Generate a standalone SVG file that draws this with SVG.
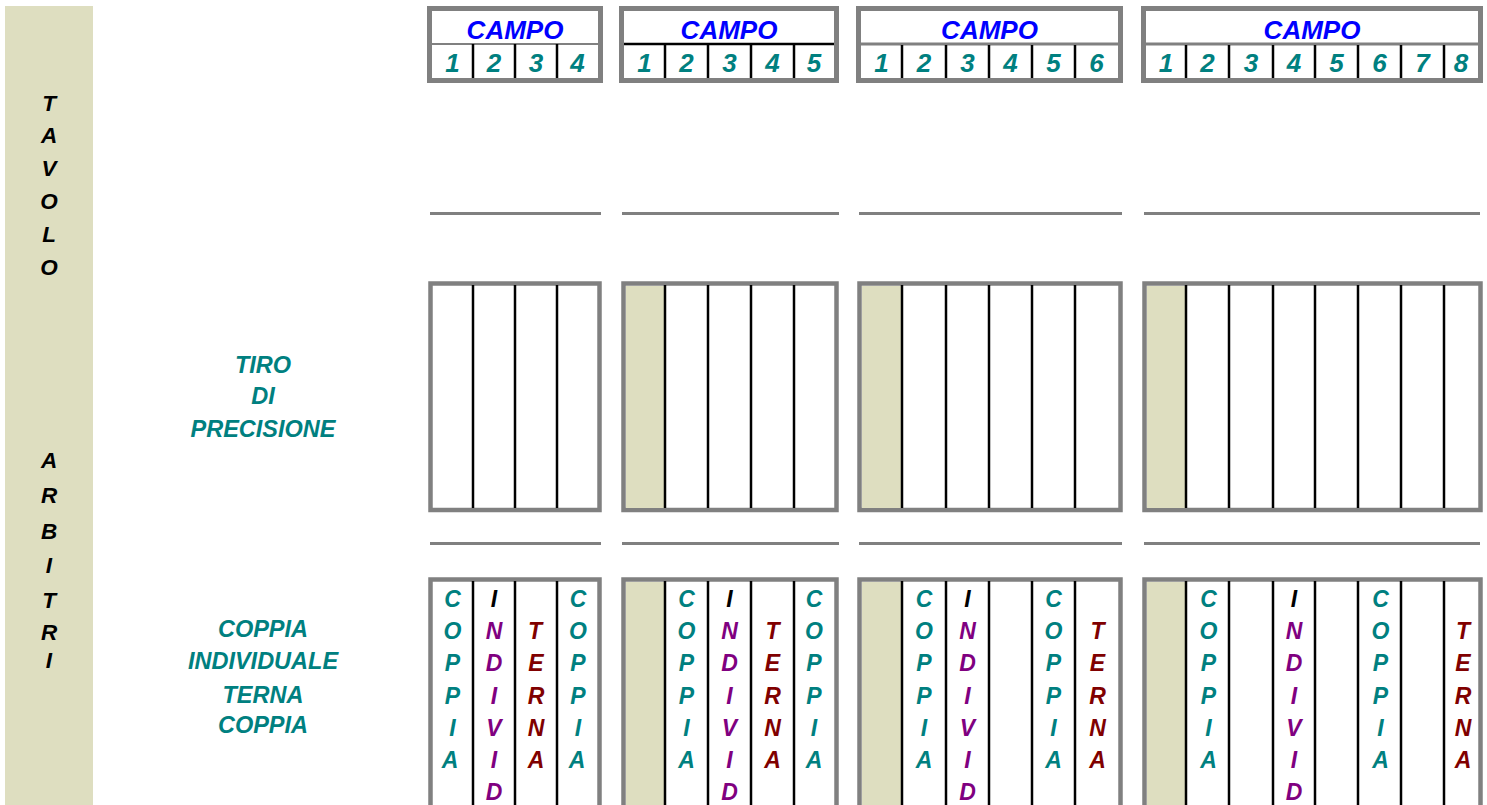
<svg xmlns="http://www.w3.org/2000/svg" width="1487" height="805" viewBox="0 0 1487 805">
<style>
text{font-family:"Liberation Sans",Arial,sans-serif;font-weight:bold;font-style:italic;text-anchor:middle}
.frame{fill:#fff;stroke:#808080;stroke-width:5}
.tan{fill:#DEDEC0}
.col{stroke:#000;stroke-width:2.5}
.sep{stroke:#808080;stroke-width:3}
.campo{fill:#0000FF;font-size:26px}
.num{fill:#008080;font-size:26px}
.lbl{fill:#008080;font-size:23.5px}
.side{fill:#000;font-size:22.5px}
.g{font-size:23px}
.cp{fill:#008080}
.iv{fill:#800080}
.tr{fill:#800000}
.bk{fill:#000}
</style>

<g id="side-strip">
<rect class="tan" x="5" y="6" width="88" height="799"/>
<text class="side"><tspan x="49" y="110.5">T</tspan><tspan x="49" y="143.4">A</tspan><tspan x="49" y="176.3">V</tspan><tspan x="49" y="209.2">O</tspan><tspan x="49" y="242.1">L</tspan><tspan x="49" y="275">O</tspan></text>
<text class="side"><tspan x="49" y="468">A</tspan><tspan x="49" y="503">R</tspan><tspan x="49" y="539">B</tspan><tspan x="49" y="573">I</tspan><tspan x="49" y="608">T</tspan><tspan x="49" y="640">R</tspan><tspan x="49" y="668">I</tspan></text>
</g>

<g id="label-tiro">
<text class="lbl"><tspan x="263" y="372.5">TIRO</tspan><tspan x="263" y="404">DI</tspan><tspan x="263" y="436.5">PRECISIONE</tspan></text>
</g>
<g id="label-gare">
<text class="lbl"><tspan x="263" y="637">COPPIA</tspan><tspan x="263" y="669">INDIVIDUALE</tspan><tspan x="263" y="703">TERNA</tspan><tspan x="263" y="733">COPPIA</tspan></text>
</g>

<!-- header boxes -->
<g id="campo-4">
<rect class="frame" x="429.5" y="8.5" width="171" height="72"/>
<line x1="432" y1="44" x2="598" y2="44" stroke="#808080" stroke-width="2"/>
<line class="col" x1="473" y1="44" x2="473" y2="78"/><line class="col" x1="515" y1="44" x2="515" y2="78"/><line class="col" x1="557" y1="44" x2="557" y2="78"/>
<text class="campo" x="515" y="38.5">CAMPO</text>
<text class="num"><tspan x="452.5" y="72">1</tspan><tspan x="494" y="72">2</tspan><tspan x="536" y="72">3</tspan><tspan x="577.5" y="72">4</tspan></text>
</g>
<g id="campo-5">
<rect class="frame" x="621.5" y="8.5" width="215" height="72"/>
<line x1="624" y1="44" x2="834" y2="44" stroke="#000" stroke-width="2.5"/>
<line class="col" x1="665" y1="44" x2="665" y2="78"/><line class="col" x1="708" y1="44" x2="708" y2="78"/><line class="col" x1="751" y1="44" x2="751" y2="78"/><line class="col" x1="794" y1="44" x2="794" y2="78"/>
<text class="campo" x="729" y="38.5">CAMPO</text>
<text class="num"><tspan x="644.5" y="72">1</tspan><tspan x="686.5" y="72">2</tspan><tspan x="729.5" y="72">3</tspan><tspan x="772.5" y="72">4</tspan><tspan x="814" y="72">5</tspan></text>
</g>
<g id="campo-6">
<rect class="frame" x="858.5" y="8.5" width="262" height="72"/>
<line x1="861" y1="44" x2="1118" y2="44" stroke="#808080" stroke-width="3"/>
<line class="col" x1="902" y1="45" x2="902" y2="78"/><line class="col" x1="946" y1="45" x2="946" y2="78"/><line class="col" x1="989" y1="45" x2="989" y2="78"/><line class="col" x1="1032" y1="45" x2="1032" y2="78"/><line class="col" x1="1075" y1="45" x2="1075" y2="78"/>
<text class="campo" x="989.5" y="38.5">CAMPO</text>
<text class="num"><tspan x="881.5" y="72">1</tspan><tspan x="924" y="72">2</tspan><tspan x="967.5" y="72">3</tspan><tspan x="1010.5" y="72">4</tspan><tspan x="1053.5" y="72">5</tspan><tspan x="1096.5" y="72">6</tspan></text>
</g>
<g id="campo-8">
<rect class="frame" x="1143.5" y="8.5" width="337" height="72"/>
<line x1="1146" y1="44" x2="1478" y2="44" stroke="#808080" stroke-width="3"/>
<line class="col" x1="1186" y1="45" x2="1186" y2="78"/><line class="col" x1="1229" y1="45" x2="1229" y2="78"/><line class="col" x1="1273" y1="45" x2="1273" y2="78"/><line class="col" x1="1315" y1="45" x2="1315" y2="78"/><line class="col" x1="1358" y1="45" x2="1358" y2="78"/><line class="col" x1="1401" y1="45" x2="1401" y2="78"/><line class="col" x1="1444" y1="45" x2="1444" y2="78"/>
<text class="campo" x="1312" y="38.5">CAMPO</text>
<text class="num"><tspan x="1166" y="72">1</tspan><tspan x="1207.5" y="72">2</tspan><tspan x="1251" y="72">3</tspan><tspan x="1294" y="72">4</tspan><tspan x="1336.5" y="72">5</tspan><tspan x="1379.5" y="72">6</tspan><tspan x="1422.5" y="72">7</tspan><tspan x="1461" y="72">8</tspan></text>
</g>

<!-- separators -->
<g id="connectors">
<line class="sep" x1="430" y1="213.5" x2="601" y2="213.5"/>
<line class="sep" x1="622" y1="213.5" x2="839" y2="213.5"/>
<line class="sep" x1="859" y1="213.5" x2="1122" y2="213.5"/>
<line class="sep" x1="1144" y1="213.5" x2="1480" y2="213.5"/>
<line class="sep" x1="430" y1="543.5" x2="601" y2="543.5"/>
<line class="sep" x1="622" y1="543.5" x2="839" y2="543.5"/>
<line class="sep" x1="859" y1="543.5" x2="1122" y2="543.5"/>
<line class="sep" x1="1144" y1="543.5" x2="1480" y2="543.5"/>
</g>

<!-- precision boxes -->
<g id="tiro-4">
<rect class="frame" x="430.5" y="283.5" width="169" height="226.5" style="stroke-width:4.5"/>
<line class="col" x1="473" y1="285" x2="473" y2="508"/><line class="col" x1="515" y1="285" x2="515" y2="508"/><line class="col" x1="557" y1="285" x2="557" y2="508"/>
</g>
<g id="tiro-5">
<rect class="frame" x="623.5" y="283.5" width="213" height="226.5" style="stroke-width:4.5"/>
<rect class="tan" x="626" y="286" width="38.5" height="222"/>
<line class="col" x1="665" y1="285" x2="665" y2="508"/><line class="col" x1="708" y1="285" x2="708" y2="508"/><line class="col" x1="751" y1="285" x2="751" y2="508"/><line class="col" x1="794" y1="285" x2="794" y2="508"/>
</g>
<g id="tiro-6">
<rect class="frame" x="859.5" y="283.5" width="261" height="226.5" style="stroke-width:4.5"/>
<rect class="tan" x="862" y="286" width="39.5" height="222"/>
<line class="col" x1="902" y1="285" x2="902" y2="508"/><line class="col" x1="946" y1="285" x2="946" y2="508"/><line class="col" x1="989" y1="285" x2="989" y2="508"/><line class="col" x1="1032" y1="285" x2="1032" y2="508"/><line class="col" x1="1075" y1="285" x2="1075" y2="508"/>
</g>
<g id="tiro-8">
<rect class="frame" x="1144.5" y="283.5" width="336" height="226.5" style="stroke-width:4.5"/>
<rect class="tan" x="1147" y="286" width="38.5" height="222"/>
<line class="col" x1="1186" y1="285" x2="1186" y2="508"/><line class="col" x1="1229" y1="285" x2="1229" y2="508"/><line class="col" x1="1273" y1="285" x2="1273" y2="508"/><line class="col" x1="1315" y1="285" x2="1315" y2="508"/><line class="col" x1="1358" y1="285" x2="1358" y2="508"/><line class="col" x1="1401" y1="285" x2="1401" y2="508"/><line class="col" x1="1444" y1="285" x2="1444" y2="508"/>
</g>

<!-- competition boxes -->
<g id="gara-4">
<rect class="frame" x="430.5" y="579.5" width="169" height="250" style="stroke-width:4.5"/>
<line class="col" x1="473" y1="581" x2="473" y2="805"/><line class="col" x1="515" y1="581" x2="515" y2="805"/><line class="col" x1="557" y1="581" x2="557" y2="805"/>
<text class="g cp"><tspan x="452.5" y="607">C</tspan><tspan x="452.5" y="639.2">O</tspan><tspan x="452.5" y="671.4">P</tspan><tspan x="452.5" y="703.6">P</tspan><tspan x="452.5" y="735.8">I</tspan><tspan x="450" y="768">A</tspan></text>
<text class="g bk" x="494" y="607">I</text>
<text class="g iv"><tspan x="494" y="639.2">N</tspan><tspan x="494" y="671.4">D</tspan><tspan x="494" y="703.6">I</tspan><tspan x="494" y="735.8">V</tspan><tspan x="494" y="768">I</tspan><tspan x="494" y="800.2">D</tspan></text>
<text class="g tr"><tspan x="535" y="639.2">T</tspan><tspan x="536" y="671.4">E</tspan><tspan x="536" y="703.6">R</tspan><tspan x="536" y="735.8">N</tspan><tspan x="536" y="768">A</tspan></text>
<text class="g cp"><tspan x="578" y="607">C</tspan><tspan x="578" y="639.2">O</tspan><tspan x="578" y="671.4">P</tspan><tspan x="578" y="703.6">P</tspan><tspan x="578" y="735.8">I</tspan><tspan x="577" y="768">A</tspan></text>
</g>
<g id="gara-5">
<rect class="frame" x="623.5" y="579.5" width="213" height="250" style="stroke-width:4.5"/>
<rect class="tan" x="626" y="582" width="38.5" height="223"/>
<line class="col" x1="665" y1="581" x2="665" y2="805"/><line class="col" x1="708" y1="581" x2="708" y2="805"/><line class="col" x1="751" y1="581" x2="751" y2="805"/><line class="col" x1="794" y1="581" x2="794" y2="805"/>
<text class="g cp"><tspan x="686.5" y="607">C</tspan><tspan x="686.5" y="639.2">O</tspan><tspan x="686.5" y="671.4">P</tspan><tspan x="686.5" y="703.6">P</tspan><tspan x="686.5" y="735.8">I</tspan><tspan x="686.5" y="768">A</tspan></text>
<text class="g bk" x="729.5" y="607">I</text>
<text class="g iv"><tspan x="729.5" y="639.2">N</tspan><tspan x="729.5" y="671.4">D</tspan><tspan x="729.5" y="703.6">I</tspan><tspan x="729.5" y="735.8">V</tspan><tspan x="729.5" y="768">I</tspan><tspan x="729.5" y="800.2">D</tspan></text>
<text class="g tr"><tspan x="772.5" y="639.2">T</tspan><tspan x="772.5" y="671.4">E</tspan><tspan x="772.5" y="703.6">R</tspan><tspan x="772.5" y="735.8">N</tspan><tspan x="772.5" y="768">A</tspan></text>
<text class="g cp"><tspan x="814" y="607">C</tspan><tspan x="814" y="639.2">O</tspan><tspan x="814" y="671.4">P</tspan><tspan x="814" y="703.6">P</tspan><tspan x="814" y="735.8">I</tspan><tspan x="814" y="768">A</tspan></text>
</g>
<g id="gara-6">
<rect class="frame" x="859.5" y="579.5" width="261" height="250" style="stroke-width:4.5"/>
<rect class="tan" x="862" y="582" width="39.5" height="223"/>
<line class="col" x1="902" y1="581" x2="902" y2="805"/><line class="col" x1="946" y1="581" x2="946" y2="805"/><line class="col" x1="989" y1="581" x2="989" y2="805"/><line class="col" x1="1032" y1="581" x2="1032" y2="805"/><line class="col" x1="1075" y1="581" x2="1075" y2="805"/>
<text class="g cp"><tspan x="924" y="607">C</tspan><tspan x="924" y="639.2">O</tspan><tspan x="924" y="671.4">P</tspan><tspan x="924" y="703.6">P</tspan><tspan x="924" y="735.8">I</tspan><tspan x="924" y="768">A</tspan></text>
<text class="g bk" x="967.5" y="607">I</text>
<text class="g iv"><tspan x="967.5" y="639.2">N</tspan><tspan x="967.5" y="671.4">D</tspan><tspan x="967.5" y="703.6">I</tspan><tspan x="967.5" y="735.8">V</tspan><tspan x="967.5" y="768">I</tspan><tspan x="967.5" y="800.2">D</tspan></text>
<text class="g cp"><tspan x="1053.5" y="607">C</tspan><tspan x="1053.5" y="639.2">O</tspan><tspan x="1053.5" y="671.4">P</tspan><tspan x="1053.5" y="703.6">P</tspan><tspan x="1053.5" y="735.8">I</tspan><tspan x="1053.5" y="768">A</tspan></text>
<text class="g tr"><tspan x="1097.5" y="639.2">T</tspan><tspan x="1097.5" y="671.4">E</tspan><tspan x="1097.5" y="703.6">R</tspan><tspan x="1097.5" y="735.8">N</tspan><tspan x="1097.5" y="768">A</tspan></text>
</g>
<g id="gara-8">
<rect class="frame" x="1144.5" y="579.5" width="336" height="250" style="stroke-width:4.5"/>
<rect class="tan" x="1147" y="582" width="38.5" height="223"/>
<line class="col" x1="1186" y1="581" x2="1186" y2="805"/><line class="col" x1="1229" y1="581" x2="1229" y2="805"/><line class="col" x1="1273" y1="581" x2="1273" y2="805"/><line class="col" x1="1315" y1="581" x2="1315" y2="805"/><line class="col" x1="1358" y1="581" x2="1358" y2="805"/><line class="col" x1="1401" y1="581" x2="1401" y2="805"/><line class="col" x1="1444" y1="581" x2="1444" y2="805"/>
<text class="g cp"><tspan x="1208.5" y="607">C</tspan><tspan x="1208.5" y="639.2">O</tspan><tspan x="1208.5" y="671.4">P</tspan><tspan x="1208.5" y="703.6">P</tspan><tspan x="1208.5" y="735.8">I</tspan><tspan x="1208.5" y="768">A</tspan></text>
<text class="g bk" x="1294" y="607">I</text>
<text class="g iv"><tspan x="1294" y="639.2">N</tspan><tspan x="1294" y="671.4">D</tspan><tspan x="1294" y="703.6">I</tspan><tspan x="1294" y="735.8">V</tspan><tspan x="1294" y="768">I</tspan><tspan x="1294" y="800.2">D</tspan></text>
<text class="g cp"><tspan x="1380.5" y="607">C</tspan><tspan x="1380.5" y="639.2">O</tspan><tspan x="1380.5" y="671.4">P</tspan><tspan x="1380.5" y="703.6">P</tspan><tspan x="1380.5" y="735.8">I</tspan><tspan x="1380.5" y="768">A</tspan></text>
<text class="g tr"><tspan x="1463" y="639.2">T</tspan><tspan x="1463" y="671.4">E</tspan><tspan x="1463" y="703.6">R</tspan><tspan x="1463" y="735.8">N</tspan><tspan x="1463" y="768">A</tspan></text>
</g>
</svg>
